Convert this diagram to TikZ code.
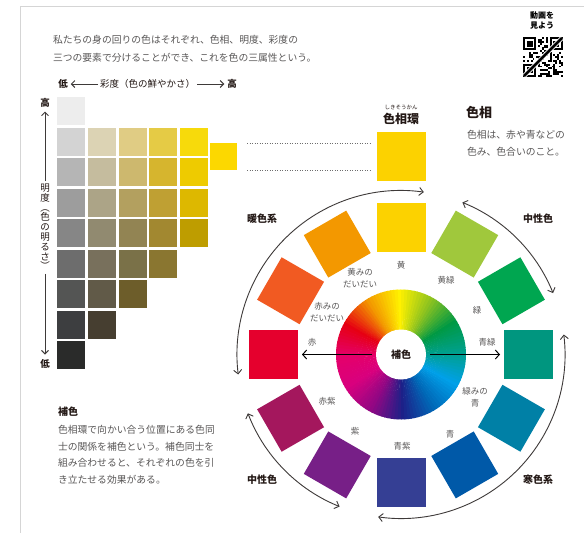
\documentclass[tikz,border=0pt]{standalone}
\usepackage{fontspec}
\setmainfont{Noto Sans CJK JP}
\usetikzlibrary{arrows.meta,calc}
\definecolor{txt}{HTML}{595757}
\definecolor{ink}{HTML}{231815}
\definecolor{framec}{HTML}{D5D5D5}
\definecolor{arcc}{HTML}{3E3A39}
\definecolor{w0}{HTML}{00A08E}
\definecolor{w1}{HTML}{009944}
\definecolor{w2}{HTML}{8FC31F}
\definecolor{w3}{HTML}{FFF100}
\definecolor{w4}{HTML}{F39800}
\definecolor{w5}{HTML}{E60012}
\definecolor{w6}{HTML}{E5006A}
\definecolor{w7}{HTML}{D9007E}
\definecolor{w8}{HTML}{920783}
\definecolor{w9}{HTML}{1D2088}
\definecolor{w10}{HTML}{0068B7}
\definecolor{w11}{HTML}{00A0E9}
\newcommand\gridrow[2]{\foreach \c [count=\n] in {#2}{\definecolor{cc}{HTML}{\c}\node[cell,fill=cc] (g#1-\n) at ({71+(\n-1)*30.75},{-111-(#1-1)*30.5}) {};}}
\begin{document}
\begin{tikzpicture}[x=1pt,y=1pt,
  every node/.style={inner sep=0pt,outer sep=0pt},
  cell/.style={minimum size=28pt,shape=rectangle},
  sq/.style={minimum size=49pt,shape=rectangle},
  body/.style={text=txt,font=\fontsize{9.8}{12}\selectfont},
  head/.style={text=ink,font=\bfseries\fontsize{10}{12}\selectfont},
  lab/.style={text=txt,font=\fontsize{8.5}{11.5}\selectfont,align=center},
  axar/.style={draw=arcc,line width=0.9pt,-{Straight Barb[length=3.5pt,width=7pt]}},
  bigarc/.style={draw=arcc,line width=0.9pt,{Straight Barb[length=4pt,width=8pt]}-{Straight Barb[length=4pt,width=8pt]}},
  carr/.style={draw=black,line width=1pt,-{Straight Barb[length=4pt,width=9pt]},shorten <=4pt,shorten >=4pt},
  dotl/.style={draw={rgb,255:red,110;green,110;blue,110},line width=0.8pt,dash pattern=on 1pt off 1.5pt}]
\useasboundingbox (0,0) rectangle (584,-533);
\fill[white] (0,0) rectangle (584,-533);
% frame
\draw[framec,line width=0.8pt] (584,-6.5) -- (20.5,-6.5) -- (20.5,-533);
% intro text
\node[body,anchor=west] (intro1) at (53,-40) {私たちの身の回りの色はそれぞれ、色相、明度、彩度の};
\node[body,anchor=west] (intro2) at (53,-58) {三つの要素で分けることができ、これを色の三属性という。};
% QR block
\node[text=black,font=\bfseries\fontsize{8}{10}\selectfont,align=center] (qrt) at (542,-20.5) {動画を\\見よう};
\begin{scope}[shift={(523,-37)}]
\pgfmathsetseed{3}
\foreach \a in {0,...,20}{\foreach \b in {0,...,20}{\pgfmathsetmacro\rr{rnd}\ifdim\rr pt<0.48pt\fill ({\a*1.9},{-\b*1.9}) rectangle ++(1.9,-1.9);\fi}}
\foreach \wx/\wy/\p/\q in {0/0/0/0,13/0/14/0,0/13/0/14}{
  \fill[white] ({\wx*1.9},{-\wy*1.9}) rectangle ++(15.2,-15.2);
  \fill[black] ({\p*1.9},{-\q*1.9}) rectangle ++(13.3,-13.3);
  \fill[white] ({\p*1.9+1.9},{-\q*1.9-1.9}) rectangle ++(9.5,-9.5);
  \fill[black] ({\p*1.9+3.8},{-\q*1.9-3.8}) rectangle ++(5.7,-5.7);}
\draw[white,line width=4.5pt] (1,-39) -- (39,-1);
\draw[black,line width=2.6pt] (1,-39) -- (39,-1);
\end{scope}
% saturation axis
\node[head,font=\bfseries\fontsize{9.5}{11}\selectfont] (slow) at (63,-84) {低};
\node[text=ink,font=\fontsize{9.5}{11}\selectfont] (sat) at (147.5,-84) {彩度（色の鮮やかさ）};
\node[head,font=\bfseries\fontsize{9.5}{11}\selectfont] (shigh) at (232,-84) {高};
\draw[axar] ([xshift=-2pt]sat.west) -- ([xshift=3pt]slow.east);
\draw[axar] ([xshift=2pt]sat.east) -- ([xshift=-3pt]shigh.west);
% lightness axis
\node[head,font=\bfseries\fontsize{9.5}{11}\selectfont] (vhigh) at (45,-103) {高};
\node[head,font=\bfseries\fontsize{9.5}{11}\selectfont] (vlow) at (45,-364) {低};
\node[text=ink,font=\fontsize{9.5}{9.8}\selectfont,align=center] (vlab) at (45,-227) {明\\度\\︵\\色\\の\\明\\る\\さ\\︶};
\draw[axar] ([yshift=3pt]vlab.north) -- ([yshift=-4pt]vhigh.south);
\draw[axar] ([yshift=-4pt]vlab.south) -- ([yshift=5pt]vlow.north);
% grid
\gridrow{1}{EDEDED}
\gridrow{2}{D3D3D3,DCD3B4,E0CC84,E5CB45,F7DA0B}
\gridrow{3}{B5B5B5,C5BC9E,CDB86E,D6B52E,EECB00}
\gridrow{4}{9D9D9D,ACA487,B3A05F,BFA033,DDB800}
\gridrow{5}{868686,918A70,928453,A28830,BE9D00}
\gridrow{6}{6D6D6D,78705C,7A7148,8A7630}
\gridrow{7}{545554,615A48,6D5D2A}
\gridrow{8}{3D3E40,463E30}
\gridrow{9}{2A2B2A}
\node[minimum size=27pt,fill={rgb,255:red,252;green,216;blue,0}] (smallsq) at (223.5,-156.5) {};
% hue ring header
\node[text=ink,font=\fontsize{5.5}{6}\selectfont] (ruby) at (401,-107.5) {しきそうかん};
\node[text=ink,font=\bfseries\fontsize{12}{14}\selectfont] (ringT) at (401,-118.5) {色相環};
\node[sq,fill={rgb,255:red,252;green,210;blue,0}] (topsq) at (401,-156) {};
\draw[dotl] ([xshift=10pt]smallsq.north east) -- ([xshift=-6pt]topsq.west |- smallsq.north east);
\draw[dotl] ([xshift=10pt]smallsq.south east) -- ([xshift=-6pt]topsq.west |- smallsq.south east);
\node[text=ink,font=\bfseries\fontsize{13}{15}\selectfont,anchor=west] (hueT) at (466,-113) {色相};
\node[body,anchor=west] (hue1) at (467,-134.5) {色相は、赤や青などの};
\node[body,anchor=west] (hue2) at (467,-152) {色み、色合いのこと。};
% complementary text
\node[head,anchor=west] (compT) at (58,-412) {補色};
\node[body,anchor=west] (comp1) at (58,-430) {色相環で向かい合う位置にある色同};
\node[body,anchor=west] (comp2) at (58,-446.5) {士の関係を補色という。補色同士を};
\node[body,anchor=west] (comp3) at (58,-463) {組み合わせると、それぞれの色を引};
\node[body,anchor=west] (comp4) at (58,-479.5) {き立たせる効果がある。};
% wheel
\begin{scope}[shift={(401,-354.5)}]
\foreach \i in {0,...,119}{
  \pgfmathtruncatemacro\k{int(\i/10)}
  \pgfmathtruncatemacro\kn{mod(\k+1,12)}
  \pgfmathtruncatemacro\f{100-10*mod(\i,10)}
  \fill[w\k!\f!w\kn] (0,0) -- ({3*\i}:65) arc[start angle={3*\i},end angle={3*\i+3.6},radius=65] -- cycle;}
\node[circle,fill=white,minimum size=50pt,text=ink,font=\bfseries\fontsize{10}{12}\selectfont] (hub) at (0,0) {補色};
\node[sq,fill={rgb,255:red,252;green,210;blue,0},rotate=0] (hY) at (90:127.5) {};
\node[sq,fill={rgb,255:red,160;green,200;blue,60},rotate=60] (hYG) at (60:127.5) {};
\node[sq,fill={rgb,255:red,0;green,166;blue,80},rotate=30] (hG) at (30:127.5) {};
\node[sq,fill={rgb,255:red,0;green,150;blue,127},rotate=0] (hBG) at (0:127.5) {};
\node[sq,fill={rgb,255:red,0;green,128;blue,166},rotate=-30] (hgB) at (-30:127.5) {};
\node[sq,fill={rgb,255:red,0;green,89;blue,168},rotate=-60] (hB) at (-60:127.5) {};
\node[sq,fill={rgb,255:red,53;green,63;blue,148},rotate=0] (hBV) at (-90:127.5) {};
\node[sq,fill={rgb,255:red,119;green,31;blue,135},rotate=-120] (hV) at (-120:127.5) {};
\node[sq,fill={rgb,255:red,164;green,23;blue,93},rotate=-150] (hRV) at (-150:127.5) {};
\node[sq,fill={rgb,255:red,229;green,0;blue,45},rotate=0] (hR) at (180:127.5) {};
\node[sq,fill={rgb,255:red,241;green,90;blue,34},rotate=150] (hrO) at (150:127.5) {};
\node[sq,fill={rgb,255:red,243;green,152;blue,0},rotate=120] (hyO) at (120:127.5) {};
\draw[carr] (hub.east) -- (hBG.west);
\draw[carr] (hub.west) -- (hR.east);
\draw[bigarc] (82:164) arc[start angle=82,end angle=187,radius=164];
\draw[bigarc] (68:164) arc[start angle=68,end angle=22,radius=164];
\draw[bigarc] (7:164) arc[start angle=7,end angle=-98,radius=164];
\draw[bigarc] (201:164) arc[start angle=201,end angle=248,radius=164];
\end{scope}
% hue labels
\node[lab] (lY) at (401,-265) {黄};
\node[lab] (lYG) at (446,-280) {黄緑};
\node[lab] (lG) at (477,-310) {緑};
\node[lab] (lBG) at (487,-342) {青緑};
\node[lab] (lgB) at (475,-397.5) {緑みの\\青};
\node[lab] (lB) at (450,-434) {青};
\node[lab] (lBV) at (402,-446) {青紫};
\node[lab] (lV) at (355,-431) {紫};
\node[lab] (lRV) at (327,-401) {赤紫};
\node[lab] (lR) at (312,-342) {赤};
\node[lab] (lrO) at (327,-312) {赤みの\\だいだい};
\node[lab] (lyO) at (360,-278) {黄みの\\だいだい};
% group labels
\node[head] (gWarm) at (262,-219) {暖色系};
\node[head] (gNeu1) at (538,-219) {中性色};
\node[head] (gNeu2) at (262,-480) {中性色};
\node[head] (gCold) at (538,-480) {寒色系};
\end{tikzpicture}
\end{document}
